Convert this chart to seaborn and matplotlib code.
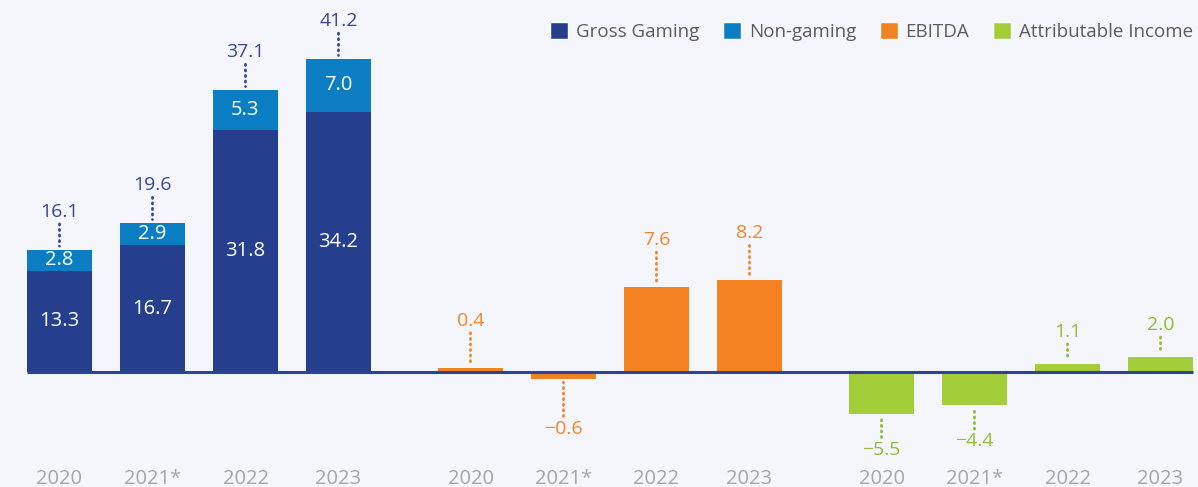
import matplotlib
matplotlib.use("Agg")
import matplotlib.pyplot as plt
from matplotlib.patches import Patch
import seaborn as sns
import pandas as pd

# ---- data -------------------------------------------------------------
years = ["2020", "2021*", "2022", "2023"]
gross_gaming = [13.3, 16.7, 31.8, 34.2]
non_gaming = [2.8, 2.9, 5.3, 7.0]
revenue_total = [16.1, 19.6, 37.1, 41.2]
ebitda = [0.4, -0.6, 7.6, 8.2]
attributable_income = [-5.5, -4.4, 1.1, 2.0]

# ---- style ------------------------------------------------------------
BG = "#f5f6fb"
C_GROSS = "#253f8e"
C_NONGAME = "#0b7dc3"
C_EBITDA = "#f48220"
C_INCOME = "#a4cd3a"
C_TOTAL_TXT = "#34479a"
C_EBITDA_TXT = "#f0852a"
C_INCOME_TXT = "#90bd33"
C_BASE = "#2b4593"
C_TICK = "#a6a6a6"
C_LEGEND = "#5b5b66"

sns.set_theme(style="white")
plt.rcParams["font.family"] = ["Open Sans", "DejaVu Sans"]

# slot positions: three groups of four bars with a wider gap between groups
group_step = 132 / 93
pos_rev = [0, 1, 2, 3]
pos_ebitda = [pos_rev[-1] + group_step + p for p in range(4)]
pos_income = [pos_ebitda[-1] + group_step + p for p in range(4)]
bar_w = 0.70

df_rev = pd.DataFrame({"pos": pos_rev, "total": revenue_total, "gross": gross_gaming})
df_eb = pd.DataFrame({"pos": pos_ebitda, "value": ebitda})
df_inc = pd.DataFrame({"pos": pos_income, "value": attributable_income})

W, H = 1198, 487
fig = plt.figure(figsize=(W / 100, H / 100), dpi=100, facecolor=BG)
ax_bottom_px = 466
ax = fig.add_axes([0, (H - ax_bottom_px) / H, 1, ax_bottom_px / H])
ax.set_facecolor(BG)

base_px = 372
scale_main = 7.6   # px per unit for revenue and income
scale_eb = 11.2    # px per unit for EBITDA

# revenue: stacked (total drawn first, gross gaming on top of it)
sns.barplot(data=df_rev, x="pos", y="total", native_scale=True, width=bar_w,
            color=C_NONGAME, saturation=1, ax=ax, linewidth=0)
sns.barplot(data=df_rev, x="pos", y="gross", native_scale=True, width=bar_w,
            color=C_GROSS, saturation=1, ax=ax, linewidth=0)
sns.barplot(data=df_inc, x="pos", y="value", native_scale=True, width=bar_w,
            color=C_INCOME, saturation=1, ax=ax, linewidth=0)

ax2 = ax.twinx()
ax2.set_facecolor("none")
sns.barplot(data=df_eb, x="pos", y="value", native_scale=True, width=bar_w,
            color=C_EBITDA, saturation=1, ax=ax2, linewidth=0)

x_left = -59.5 / 93
x_right = (W - 59.5) / 93
for a, s in ((ax, scale_main), (ax2, scale_eb)):
    a.set_xlim(x_left, x_right)
    a.set_ylim(-(ax_bottom_px - base_px) / s, base_px / s)
    a.set_yticks([])
    a.set_ylabel("")
    a.set_xlabel("")
    for sp in a.spines.values():
        sp.set_visible(False)

# zero baseline across all bars
ax2.hlines(0, pos_rev[0] - bar_w / 2, pos_income[-1] + bar_w / 2,
           color=C_BASE, lw=2.2, zorder=5)

all_pos = pos_rev + pos_ebitda + pos_income
ax.set_xticks(all_pos)
ax.set_xticklabels(years * 3, fontsize=14.5, color=C_TICK)
ax.tick_params(axis="x", length=0, pad=2)
ax2.tick_params(axis="x", length=0, labelbottom=False)

out_fs = 14
in_fs = 14.5


def callout(a, x, y, text, color, offset):
    a.annotate(text, xy=(x, y), xytext=(0, offset), textcoords="offset pixels",
               ha="center", va="center", fontsize=out_fs, color=color,
               arrowprops=dict(arrowstyle="-", color=color, lw=2.0,
                               linestyle=(0, (0.4, 1.6)), capstyle="round",
                               shrinkA=0, shrinkB=2.5),
               zorder=6)


def fmt(v):
    return f"{v:.1f}".replace("-", "\u2212")


# revenue labels
for p, g, n, t in zip(pos_rev, gross_gaming, non_gaming, revenue_total):
    ax.text(p, g / 2, fmt(g), ha="center", va="center",
            fontsize=in_fs, color="white")
    ax.text(p, g + n / 2, fmt(n), ha="center", va="center",
            fontsize=in_fs, color="white")
    callout(ax, p, t, fmt(t), C_TOTAL_TXT, 38)

# EBITDA labels
for p, v in zip(pos_ebitda, ebitda):
    callout(ax2, p, v, fmt(v), C_EBITDA_TXT, 47 if v >= 0 else -50)

# attributable income labels
for p, v in zip(pos_income, attributable_income):
    callout(ax, p, v, fmt(v), C_INCOME_TXT, 32 if v >= 0 else -36)

# legend along the top
handles = [Patch(facecolor=C_GROSS, label="Gross Gaming"),
           Patch(facecolor=C_NONGAME, label="Non-gaming"),
           Patch(facecolor=C_EBITDA, label="EBITDA"),
           Patch(facecolor=C_INCOME, label="Attributable Income")]
leg = fig.legend(handles=handles, ncol=4, frameon=False, fontsize=13.5,
                 loc="center left", bbox_to_anchor=(550 / W, 1 - 31.5 / H),
                 bbox_transform=fig.transFigure, borderpad=0, borderaxespad=0,
                 handlelength=0.97, handleheight=1.02, handletextpad=0.42,
                 columnspacing=1.25)
for t in leg.get_texts():
    t.set_color(C_LEGEND)

fig.savefig("out.png", dpi=100, facecolor=BG)
